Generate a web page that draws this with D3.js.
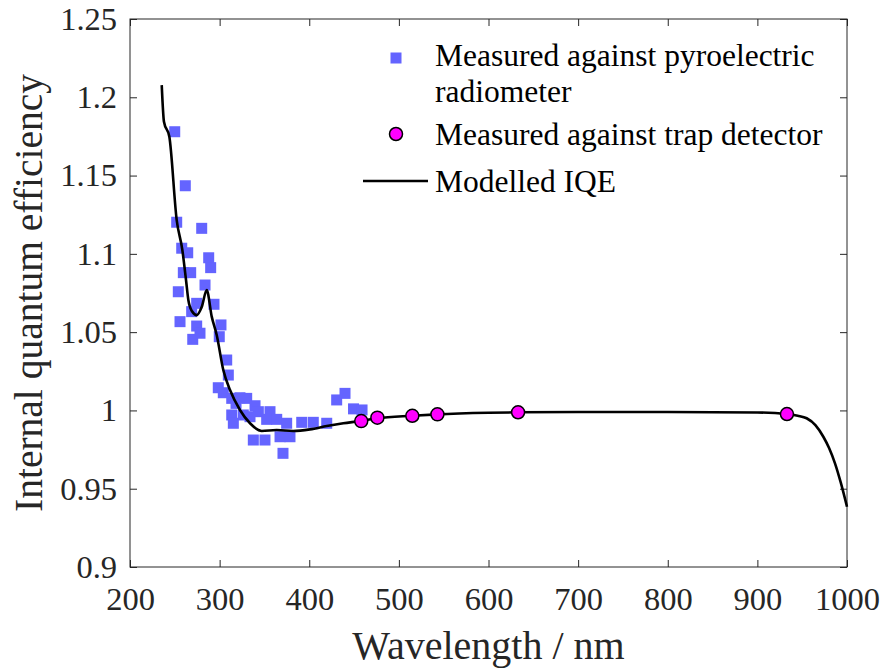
<!DOCTYPE html>
<html><head><meta charset="utf-8">
<script src="https://cdn.jsdelivr.net/npm/d3@7"></script>
<style>body{margin:0;background:#fff} svg{display:block}</style>
</head><body><svg id="c" width="887" height="668"></svg>
<script>
// ---- data ----
const pyroWavelength = [249.9,261.7,252.1,280.0,257.7,264.4,287.8,290.0,259.5,267.7,253.9,283.7,274.4,293.7,268.8,255.8,274.4,278.1,301.5,299.6,270.0,307.9,309.7,298.5,304.1,313.5,322.7,330.2,318.3,339.5,343.2,356.2,313.5,315.3,326.4,333.9,352.5,363.7,374.8,391.6,404.5,419.5,337.6,350.6,367.4,378.5,370.7,430.6,439.9,449.4,458.9];
const pyroIQE = [1.178,1.1435,1.1202,1.1163,1.1036,1.1007,1.0975,1.0912,1.0880,1.0880,1.0758,1.0801,1.0684,1.0678,1.0631,1.0567,1.0539,1.0493,1.0546,1.0471,1.0454,1.0322,1.0226,1.0145,1.0113,1.0077,1.0081,1.0077,1.0045,1.0030,0.9992,0.9992,0.9971,0.9918,0.9971,0.9960,0.9943,0.9943,0.9918,0.9924,0.9924,0.9918,0.9811,0.9811,0.9832,0.9832,0.9726,1.0067,1.0109,1.0010,1.0003];
const trapWavelength = [458, 476, 515, 543, 633, 933];
const trapIQE = [0.9932, 0.9954, 0.9966, 0.9975, 0.9988, 0.9977];
const modelWavelength = [235.4,237.9,243.9,252.1,258.4,262.5,265.1,269,274.5,280,285.6,291.2,296.8,304.1,311.6,322.7,333.9,347.0,363.7,382,400.8,419.5,438,456.6,476,515,543,600,633,700,800,900,933,945,955,965,973.6,980,986.6,993,1000];
const modelIQE = [1.2078,1.1844,1.1748,1.1216,1.1025,1.0833,1.0705,1.0635,1.0609,1.066,1.0769,1.0599,1.048,1.0258,1.0130,1.0003,0.9918,0.9869,0.9875,0.9869,0.9879,0.9900,0.9918,0.9932,0.9950,0.9966,0.9975,0.9985,0.9988,0.9990,0.9990,0.9987,0.9977,0.9966,0.9950,0.9905,0.9832,0.9760,0.9662,0.9540,0.9385];
const xTickValues = [200,300,400,500,600,700,800,900,1000];
const yTickValues = [0.9,0.95,1,1.05,1.1,1.15,1.2,1.25];
const legendLabels = [["Measured against pyroelectric","radiometer"],["Measured against trap detector"],["Modelled IQE"]];
const xLabel = "Wavelength / nm";
const yLabel = "Internal quantum efficiency";

// ---- layout ----
const FONT = "'Liberation Serif','Times New Roman',serif";
const L = 130, R = 847, T = 19, B = 567;
const svg = d3.select("#c");
const x = d3.scaleLinear().domain([200, 1000]).range([L, R]);
const y = d3.scaleLinear().domain([0.9, 1.25]).range([B, T]);
const axisColor = "#262626";
const fmt = d => String(+d.toFixed(2));

function styleAxis(g, showLabels) {
  g.select(".domain").remove();
  g.selectAll("line").attr("stroke", axisColor).attr("stroke-width", 1);
  g.selectAll("text").attr("fill", axisColor).style("font-family", FONT).style("font-size", "32.5px");
  if (!showLabels) g.selectAll("text").remove();
}
svg.append("g").attr("transform", `translate(0,${B})`)
  .call(d3.axisBottom(x).tickValues(xTickValues).tickFormat(fmt).tickSizeInner(-7).tickSizeOuter(0).tickPadding(20))
  .call(g => styleAxis(g, true));
svg.append("g").attr("transform", `translate(0,${T})`)
  .call(d3.axisTop(x).tickValues(xTickValues).tickSizeInner(-7).tickSizeOuter(0))
  .call(g => styleAxis(g, false));
svg.append("g").attr("transform", `translate(${L},0)`)
  .call(d3.axisLeft(y).tickValues(yTickValues).tickFormat(fmt).tickSizeInner(-7).tickSizeOuter(0).tickPadding(13))
  .call(g => styleAxis(g, true));
svg.append("g").attr("transform", `translate(${R},0)`)
  .call(d3.axisRight(y).tickValues(yTickValues).tickSizeInner(-7).tickSizeOuter(0))
  .call(g => styleAxis(g, false));
svg.append("rect").attr("x", L).attr("y", T).attr("width", R - L).attr("height", B - T)
  .attr("fill", "none").attr("stroke", axisColor).attr("stroke-width", 1);

// axis labels
svg.append("text").attr("x", (L + R) / 2).attr("y", 659).attr("text-anchor", "middle")
  .style("font-family", FONT).style("font-size", "40px").attr("fill", axisColor).text(xLabel);
svg.append("text").attr("transform", `translate(42,${(T + B) / 2}) rotate(-90)`).attr("text-anchor", "middle")
  .style("font-family", FONT).style("font-size", "39.5px").attr("fill", axisColor).text(yLabel);

// squares
const SQ = 11;
svg.append("g").selectAll("rect").data(pyroWavelength.map((w, i) => [w, pyroIQE[i]])).join("rect")
  .attr("x", d => x(d[0]) - SQ / 2).attr("y", d => y(d[1]) - SQ / 2).attr("width", SQ).attr("height", SQ)
  .attr("fill", "#6464ff");

// model line
const line = d3.line().x(d => x(d[0])).y(d => y(d[1])).curve(d3.curveMonotoneX);
svg.append("path").datum(modelWavelength.map((w, i) => [w, modelIQE[i]]))
  .attr("d", line).attr("fill", "none").attr("stroke", "#000").attr("stroke-width", 2.6);

// circles
svg.append("g").selectAll("circle").data(trapWavelength.map((w, i) => [w, trapIQE[i]])).join("circle")
  .attr("cx", d => x(d[0])).attr("cy", d => y(d[1])).attr("r", 6.5)
  .attr("fill", "#ff00ff").attr("stroke", "#000").attr("stroke-width", 1.5);

// legend
const lg = svg.append("g").style("font-family", FONT).style("font-size", "31.5px").attr("fill", "#000");
lg.append("rect").attr("x", 396 - SQ / 2).attr("y", 58 - SQ / 2).attr("width", SQ).attr("height", SQ).attr("fill", "#6464ff");
lg.append("text").attr("x", 435).attr("y", 66).text(legendLabels[0][0]);
lg.append("text").attr("x", 435).attr("y", 102).text(legendLabels[0][1]);
lg.append("circle").attr("cx", 396).attr("cy", 134).attr("r", 6.5).attr("fill", "#ff00ff").attr("stroke", "#000").attr("stroke-width", 1.5);
lg.append("text").attr("x", 435).attr("y", 145).text(legendLabels[1][0]);
lg.append("line").attr("x1", 363).attr("x2", 428).attr("y1", 181).attr("y2", 181).attr("stroke", "#000").attr("stroke-width", 2.6);
lg.append("text").attr("x", 435).attr("y", 192).text(legendLabels[2][0]);
</script></body></html>
